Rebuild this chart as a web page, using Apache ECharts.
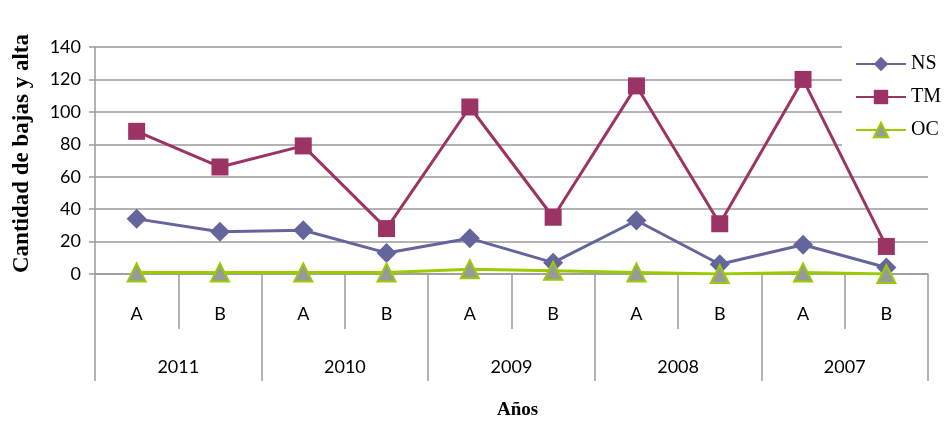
<!DOCTYPE html>
<html>
<head>
<meta charset="utf-8">
<script src="https://cdn.jsdelivr.net/npm/echarts@6/dist/echarts.min.js"></script>
<style>
  html, body { margin: 0; padding: 0; background: #fff; }
  #chart { width: 944px; height: 424px; }
</style>
</head>
<body>
<div id="chart"></div>
<script>
// Semester labels (inner tier) and years (outer tier)
const periods = ['A', 'B', 'A', 'B', 'A', 'B', 'A', 'B', 'A', 'B'];
const years = ['2011', '2010', '2009', '2008', '2007'];

// Counts per semester
const nsValues = [34, 26, 27, 13, 22, 7, 33, 6, 18, 4];
const tmValues = [88, 66, 79, 28, 103, 35, 116, 31, 120, 17];
const ocValues = [1, 1, 1, 1, 3, 2, 1, 0, 1, 0];

const yTicks = { min: 0, max: 140, interval: 20 };

const gridColor = '#9a9a9a';
const labelFont = 'Lato, "Open Sans", sans-serif';
const serifFont = '"Liberation Serif", "DejaVu Serif", serif';

const chart = echarts.init(document.getElementById('chart'));

chart.setOption({
  animation: false,
  backgroundColor: '#fff',
  grid: { left: 95, right: 16, top: 47, bottom: 150 },
  xAxis: [
    {
      type: 'category',
      data: periods,
      boundaryGap: true,
      axisLine: { show: true, lineStyle: { color: gridColor, width: 1.5 } },
      axisTick: { show: true, interval: 0, length: 55, lineStyle: { color: gridColor, width: 1.5 } },
      axisLabel: { interval: 0, margin: 31, color: '#000', fontSize: 18, fontFamily: labelFont }
    },
    {
      type: 'category',
      data: years,
      position: 'bottom',
      boundaryGap: true,
      axisLine: { show: false },
      axisTick: { show: true, interval: 0, length: 107, lineStyle: { color: gridColor, width: 1.5 } },
      axisLabel: { interval: 0, margin: 84, color: '#000', fontSize: 18, fontFamily: labelFont }
    }
  ],
  yAxis: {
    type: 'value',
    min: yTicks.min,
    max: yTicks.max,
    interval: yTicks.interval,
    axisLine: { show: true, lineStyle: { color: gridColor, width: 1.5 } },
    axisTick: { show: true, length: 6, lineStyle: { color: gridColor, width: 1.5 } },
    axisLabel: { margin: 14, color: '#000', fontSize: 18, fontFamily: labelFont },
    splitLine: { show: true, lineStyle: { color: gridColor, width: 1.5 } }
  },
  legend: {
    orient: 'vertical',
    left: 842,
    top: 44,
    padding: [10, 30, 14, 13],
    backgroundColor: '#fff',
    itemWidth: 50,
    itemHeight: 18,
    itemGap: 13,
    textStyle: { color: '#000', fontSize: 20, fontFamily: serifFont },
    data: ['NS', 'TM', 'OC']
  },
  graphic: [
    {
      type: 'text',
      rotation: Math.PI / 2,
      x: 11,
      y: 273,
      style: {
        text: 'Cantidad de bajas y alta',
        fill: '#000',
        font: 'bold 23px ' + serifFont,
        textAlign: 'left',
        textVerticalAlign: 'top'
      }
    },
    {
      type: 'text',
      left: 497,
      top: 401,
      style: {
        text: 'Años',
        fill: '#000',
        font: 'bold 19px ' + serifFont
      }
    }
  ],
  series: [
    {
      name: 'NS',
      type: 'line',
      data: nsValues,
      symbol: 'diamond',
      symbolSize: 20,
      lineStyle: { color: '#64659c', width: 3 },
      itemStyle: { color: '#64659c' }
    },
    {
      name: 'TM',
      type: 'line',
      data: tmValues,
      symbol: 'rect',
      symbolSize: 17,
      lineStyle: { color: '#9b3364', width: 3 },
      itemStyle: { color: '#9b3364' }
    },
    {
      name: 'OC',
      type: 'line',
      data: ocValues,
      symbol: 'triangle',
      symbolSize: 18,
      lineStyle: { color: '#99cc00', width: 3 },
      itemStyle: { color: '#999999', borderColor: '#99cc00', borderWidth: 2 }
    }
  ]
});
</script>
</body>
</html>
